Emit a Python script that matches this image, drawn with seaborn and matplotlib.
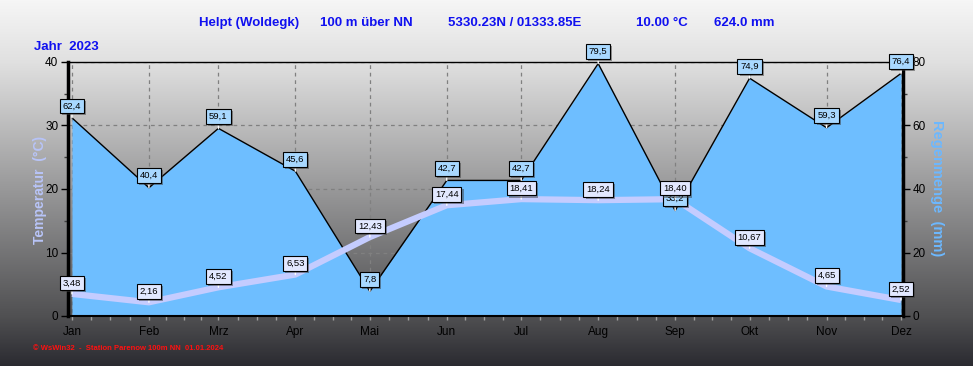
import numpy as np
import pandas as pd
import matplotlib
matplotlib.use('Agg')
import matplotlib.pyplot as plt
import matplotlib.patheffects as pe
from matplotlib import font_manager
import seaborn as sns

# Daten Helpt 2023
monate = ['Jan', 'Feb', 'Mrz', 'Apr', 'Mai', 'Jun', 'Jul', 'Aug', 'Sep', 'Okt', 'Nov', 'Dez']
temperatur = [3.48, 2.16, 4.52, 6.53, 12.43, 17.44, 18.41, 18.24, 18.40, 10.67, 4.65, 2.52]
regen = [62.4, 40.4, 59.1, 45.6, 7.8, 42.7, 42.7, 79.5, 33.2, 74.9, 59.3, 76.4]
titel_teile = ['Helpt (Woldegk)', '100 m über NN', '5330.23N / 01333.85E', '10.00 °C', '624.0 mm']

# Monatsanfang als Tag im Jahr
tage = pd.date_range('2023-01-01', periods=12, freq='MS').dayofyear.values - 1
df = pd.DataFrame({'monat': monate, 'tag': tage, 'temperatur': temperatur, 'regen': regen})


def schrift(name, ersatz):
    try:
        font_manager.findfont(name, fallback_to_default=False)
        return name
    except ValueError:
        return ersatz


basis = schrift('Liberation Sans', 'DejaVu Sans')
schmal = schrift('Liberation Sans Narrow', basis)

sns.set_style('ticks')
plt.rcParams['font.family'] = [basis, 'DejaVu Sans']

W, H = 973, 366
fig = plt.figure(figsize=(W / 100, H / 100), dpi=100)

# Hintergrund-Verlauf
bg = fig.add_axes([0, 0, 1, 1], zorder=-10)
grau = np.interp(np.arange(H), [0, 62, 316, 366], [246, 224, 80, 42]) / 255
blau = np.interp(np.arange(H), [0, 62, 316, 366], [246, 224, 82, 48]) / 255
bild = np.dstack([grau, grau, blau]).reshape(H, 1, 3)
bg.imshow(bild, aspect='auto', extent=[0, 1, 0, 1])
bg.axis('off')

ax = fig.add_axes([68 / W, 50 / H, 835 / W, 254 / H])
ax2 = ax.twinx()
ax.set_zorder(ax2.get_zorder() + 1)
ax.patch.set_visible(False)
ax2.patch.set_visible(False)

# Niederschlag
ax2.fill_between(df['tag'], df['regen'], 0, color='#6EBEFF', lw=0, zorder=2)
sns.lineplot(data=df, x='tag', y='regen', ax=ax2, color='black', lw=1, zorder=3)
ax2.set_ylim(0, 80)
ax2.set_yticks([0, 20, 40, 60, 80])
ax2.set_yticks([10, 30, 50, 70], minor=True)
ax2.xaxis.set_visible(True)
ax2.tick_params(axis='x', which='both', bottom=False, top=False, labelbottom=False, labeltop=False)
ax2.set_axisbelow(True)
ax2.grid(True, which='major', ls=(0, (3, 3)), color='#808080', lw=0.9)
ax2.set_xlabel('')
ax2.set_ylabel('')

# Temperatur
sns.lineplot(data=df, x='tag', y='temperatur', ax=ax, color='#C4CCFF', lw=4.5,
             solid_capstyle='butt', zorder=3)
ax.set_ylim(0, 40)
ax.set_xlim(-1.6, 334.8)
ax.set_yticks([0, 10, 20, 30, 40])
ax.set_yticks([5, 15, 25, 35], minor=True)
ax.set_xticks(tage)
ax.set_xticklabels(monate)
viertel = np.concatenate([np.linspace(a, b, 5)[1:4] for a, b in zip(tage[:-1], tage[1:])])
ax.set_xticks(viertel, minor=True)
ax.set_xlabel('')
ax.set_ylabel('')

# Wertbeschriftungen (auf der oberen Achse, damit sie über den Achsenlinien liegen)
schatten = [pe.withSimplePatchShadow(offset=(1.5, -1.5), shadow_rgbFace='#404040', alpha=0.5)]
for x, v in zip(df['tag'], df['regen']):
    t = ax.annotate(f'{v:.1f}'.replace('.', ','), xy=(x, v), xycoords=ax2.transData,
                    xytext=(0, 12), textcoords='offset pixels', ha='center', va='center',
                    fontsize=6.8, color='black',
                    bbox=dict(boxstyle='square,pad=0.3', fc='#A8D8FF', ec='black', lw=0.8),
                    arrowprops=dict(arrowstyle='-', color='white', lw=1, shrinkA=0, shrinkB=0),
                    annotation_clip=False, zorder=5)
    t.get_bbox_patch().set_path_effects(schatten)
for x, v in zip(df['tag'], df['temperatur']):
    t = ax.annotate(f'{v:.2f}'.replace('.', ','), xy=(x, v), xytext=(0, 11),
                    textcoords='offset pixels', ha='center', va='center', fontsize=6.8,
                    color='black',
                    bbox=dict(boxstyle='square,pad=0.3', fc='#E2E8FF', ec='black', lw=0.8),
                    arrowprops=dict(arrowstyle='-', color='white', lw=1, shrinkA=0, shrinkB=0),
                    annotation_clip=False, zorder=6)
    t.get_bbox_patch().set_path_effects(schatten)

# Achsen
for s in ['top', 'bottom', 'left', 'right']:
    ax2.spines[s].set_visible(False)
ax2.spines['right'].set_visible(True)
ax2.spines['right'].set_linewidth(2.5)
ax.spines['right'].set_visible(False)
ax.spines['left'].set_linewidth(2.5)
ax.spines['top'].set_linewidth(1)
ax.spines['bottom'].set_linewidth(1.5)
for s in ['top', 'bottom', 'left']:
    ax.spines[s].set_color('black')
ax2.spines['right'].set_color('black')

ax.tick_params(axis='y', which='major', length=5, width=1, color='black', labelcolor='black',
               labelsize=8.5, pad=2)
ax.tick_params(axis='y', which='minor', length=3, width=1, color='#404040')
ax.tick_params(axis='x', which='both', length=3, width=1, color='#A0A0A0', labelcolor='black',
               labelsize=8.5, pad=4)
ax2.tick_params(axis='y', which='major', length=5, width=1, color='black', labelcolor='black',
                labelsize=8.5, pad=2)
ax2.tick_params(axis='y', which='minor', length=3, width=1, color='#404040')

fig.text(40 / W, 1 - 190 / H, 'Temperatur  (°C)', rotation=90, ha='center', va='center',
         color='#B8C4F8', fontsize=10, fontweight='bold')
fig.text(937 / W, 1 - 188 / H, 'Regenmenge  (mm)', rotation=-90, ha='center', va='center',
         color='#6CB8FF', fontsize=10.5, fontweight='bold')

# Kopfzeile
blau_text = '#1010F0'
for x0, teil in zip([199, 320, 448, 636, 714], titel_teile):
    fig.text(x0 / W, 1 - 23 / H, teil, ha='left', va='center', color=blau_text,
             fontsize=9.5, fontweight='bold', family=[schmal, 'DejaVu Sans'])
fig.text(34 / W, 1 - 47 / H, 'Jahr  2023', ha='left', va='center', color=blau_text,
         fontsize=9.5, fontweight='bold', family=[schmal, 'DejaVu Sans'])
fig.text(33 / W, 1 - 348 / H, '© WsWin32  -  Station Parenow 100m NN  01.01.2024', ha='left',
         va='center', color='#FF1010', fontsize=5.5, fontweight='bold',
         family=[schmal, 'DejaVu Sans'])

fig.savefig('out.png', dpi=100)
